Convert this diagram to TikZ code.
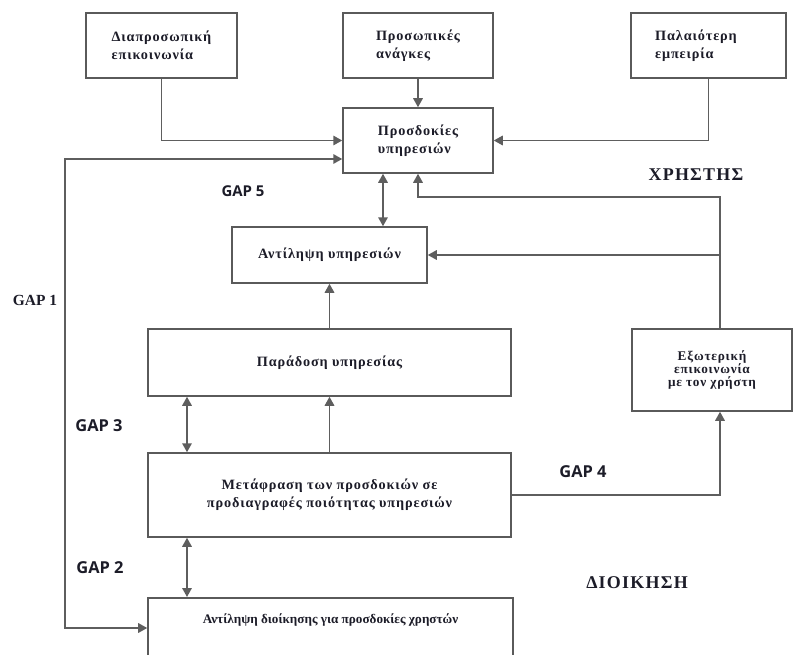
\documentclass[tikz,border=0pt]{standalone}
\usepackage{fontspec}
\setmainfont{Liberation Serif}
\newfontfamily\boxfont[LetterSpace=6]{Liberation Serif}
\newfontfamily\widefont[LetterSpace=7]{Liberation Serif}
\newfontfamily\gapfont{Open Sans}
\usetikzlibrary{arrows.meta}

\definecolor{linegray}{HTML}{5E5E5E}
\definecolor{boxgray}{HTML}{5A5A5A}
\definecolor{inkdark}{HTML}{1C1C28}

\tikzset{
  box/.style={draw=boxgray, line width=1.5bp, fill=white, align=center,
    font=\boxfont\bfseries\fontsize{14.3}{18}\selectfont, text=inkdark, inner sep=2bp},
  plain/.style={font=\bfseries\fontsize{13.2}{18}\selectfont, text=inkdark, inner sep=0bp},
  boxtext/.style={font=\boxfont\bfseries\fontsize{14.3}{18}\selectfont, text=inkdark, inner sep=0bp, align=left},
  conn/.style={draw=linegray, line width=1.6bp},
  arr/.style={conn, -{Triangle[length=9bp,width=9.5bp]}},
  both/.style={conn, {Triangle[length=9bp,width=9.5bp]}-{Triangle[length=9bp,width=9.5bp]}},
  gap/.style={font=\gapfont\bfseries\fontsize{16.5}{18}\selectfont, text=inkdark, inner sep=0bp},
  region/.style={font=\widefont\bfseries\fontsize{18}{20}\selectfont, text=inkdark, inner sep=0bp},
}

\begin{document}
\begin{tikzpicture}[x=1bp,y=-1bp]
\clip (0,0) rectangle (795,655);
\fill[white] (0,0) rectangle (795,655);

% user side
\node[box, minimum width=151bp, minimum height=65bp, align=left] (A) at (161.5,45.5) {Διαπροσωπική\\επικοινωνία};
\node[box, minimum width=150bp, minimum height=65bp, align=left] (B) at (418,45.5) {Προσωπικές\\ανάγκες};
\node[box, minimum width=155bp, minimum height=65bp] (C) at (708.5,45.5) {};
\node[boxtext] (Ctext) at (696,45.5) {Παλαιότερη\\εμπειρία};
\node[box, minimum width=150bp, minimum height=65bp, align=left] (D) at (418,140.5) {Προσδοκίες\\υπηρεσιών};
\node[box, minimum width=195bp, minimum height=56bp] (E) at (329.5,255) {Αντίληψη υπηρεσιών};

% provider side
\node[box, minimum width=363bp, minimum height=67bp] (F) at (329.5,362.5) {Παράδοση υπηρεσίας};
\node[box, minimum width=160bp, minimum height=82bp, font=\boxfont\bfseries\fontsize{13.3}{13.5}\selectfont] (G) at (712,370) {Εξωτερική\\επικοινωνία\\με τον χρήστη};
\node[box, minimum width=363bp, minimum height=84bp] (H) at (329.5,495) {Μετάφραση των προσδοκιών σε\\προδιαγραφές ποιότητας υπηρεσιών};
\node[box, minimum width=365bp, minimum height=90bp, anchor=north] (I) at (330.5,597) {};
\node[plain] (Itext) at (330.5,620) {Αντίληψη διοίκησης για προσδοκίες χρηστών};

% routing points
\coordinate (g1top) at (65,159);
\coordinate (g1bot) at (65,628);
\coordinate (turn) at (720,197);
\coordinate (lx) at (187,0);
\coordinate (dx) at (383,0);

% connectors
\draw[arr] (A.south) |- (D.west);
\draw[arr] (B.south) -- (D.north);
\draw[arr] (C.south) |- (D.east);
\draw[both] (D.west |- g1top) -- (g1top) -- (g1bot) -- (I.west |- g1bot);
\draw[both] (D.south -| dx) -- (E.north -| dx);
\draw[arr] (G.north -| turn) -- (turn) -| (D.south);
\draw[arr] (G.north -| turn) |- (E.east);
\draw[arr] (F.north) -- (E.south);
\draw[arr] (H.north) -- (F.south);
\draw[both] (F.south -| lx) -- (H.north -| lx);
\draw[both] (H.south -| lx) -- (I.north -| lx);
\draw[arr] (H.east) -| (G.south -| turn);

% labels
\node[gap, font=\gapfont\bfseries\fontsize{15}{17}\selectfont] (gap5) at (243,191) {GAP 5};
\node[plain, font=\bfseries\fontsize{15.5}{17}\selectfont] (gap1) at (35,300) {GAP 1};
\node[gap] (gap3) at (99,426) {GAP 3};
\node[gap] (gap2) at (100,568) {GAP 2};
\node[gap] (gap4) at (583,472) {GAP 4};
\node[region] (user) at (696,175) {ΧΡΗΣΤΗΣ};
\node[region] (admin) at (637,583) {ΔΙΟΙΚΗΣΗ};
\end{tikzpicture}
\end{document}
